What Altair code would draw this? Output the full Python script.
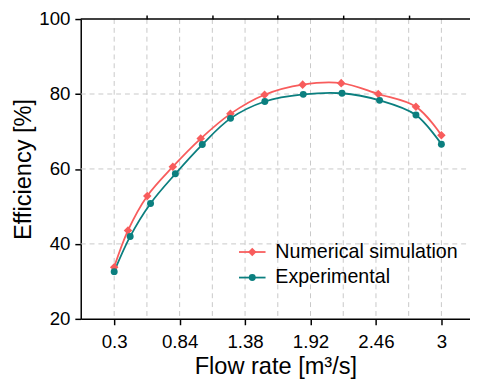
import altair as alt
import pandas as pd

series_names = ["Numerical simulation", "Experimental"]
sim_x = [0.3, 0.414, 0.573, 0.784, 1.014, 1.259, 1.541, 1.855, 2.173, 2.479, 2.79, 3.0]
sim_y = [33.8, 43.6, 52.8, 60.6, 68.1, 74.7, 79.8, 82.5, 82.9, 80.0, 76.6, 69.0]
exp_x = [0.3, 0.432, 0.6, 0.805, 1.027, 1.26, 1.543, 1.86, 2.18, 2.49, 2.79, 3.0]
exp_y = [32.6, 42.0, 50.8, 58.7, 66.5, 73.5, 78.0, 79.9, 80.2, 78.3, 74.4, 66.6]

x_major = [0.3, 0.84, 1.38, 1.92, 2.46, 3.0]
x_minor = [0.57, 1.11, 1.65, 2.19, 2.73]
x_grid = [0.3, 0.57, 0.84, 1.11, 1.38, 1.65, 1.92, 2.19, 2.46, 2.73, 3.0]
y_major = [20, 40, 60, 80, 100]
y_minor = [30, 50, 70, 90]
y_grid = [40, 60, 80]

colors = ["#F85C5C", "#0B7F7F"]
FONT = "Liberation Sans, Arial"
W, H = 396, 305

df = pd.DataFrame({
    "x": sim_x + exp_x,
    "y": sim_y + exp_y,
    "series": [series_names[0]] * len(sim_x) + [series_names[1]] * len(exp_x),
})

xscale = alt.Scale(domain=[0.024, 3.236], nice=False, zero=False)
yscale = alt.Scale(domain=[20, 100], nice=False, zero=False)
cscale = alt.Scale(domain=series_names, range=colors)
sscale = alt.Scale(domain=series_names, range=["diamond", "circle"])
zscale = alt.Scale(domain=series_names, range=[75, 50])

grid_style = dict(strokeDash=[5, 4], color="#c8c8c8", strokeWidth=1)

vgrid = alt.Chart(pd.DataFrame({"gx": x_grid})).mark_rule(**grid_style).encode(
    x=alt.X("gx:Q", scale=xscale, axis=alt.Axis(
        values=x_major, format=".2~f", tickSize=6, tickWidth=1.5, tickColor="black",
        domainColor="black", domainWidth=1.5, labelFontSize=19, labelFont=FONT,
        labelColor="black", labelPadding=8, grid=False, title="Flow rate [m³/s]",
        titleFontSize=24, titleFont=FONT, titleFontWeight="normal", titleColor="black",
        titlePadding=4, labelFlush=False)),
    y=alt.value(0), y2=alt.value(H),
)

hgrid = alt.Chart(pd.DataFrame({"gy": y_grid})).mark_rule(**grid_style).encode(
    y=alt.Y("gy:Q", scale=yscale, axis=alt.Axis(
        values=y_major, tickSize=6, tickWidth=1.5, tickColor="black",
        domainColor="black", domainWidth=1.5, labelFontSize=19, labelFont=FONT,
        labelColor="black", labelPadding=5, grid=False, title="Efficiency [%]",
        titleFontSize=24, titleFont=FONT, titleFontWeight="normal", titleColor="black",
        titlePadding=3, labelFlush=False)),
    x=alt.value(0), x2=alt.value(W),
)

xminor = alt.Chart(pd.DataFrame({"mx": x_minor})).mark_point(opacity=0).encode(
    x=alt.X("mx:Q", scale=xscale, axis=alt.Axis(
        values=x_minor, labels=False, tickSize=4, tickWidth=1.5, tickColor="black",
        domain=False, grid=False, title=None)),
)
yminor = alt.Chart(pd.DataFrame({"my": y_minor})).mark_point(opacity=0).encode(
    y=alt.Y("my:Q", scale=yscale, axis=alt.Axis(
        values=y_minor, labels=False, tickSize=4, tickWidth=1.5, tickColor="black",
        domain=False, grid=False, title=None)),
)

top = alt.Chart(pd.DataFrame({"a": [0]})).mark_rule(color="black", strokeWidth=1.5).encode(
    x=alt.value(0), x2=alt.value(W), y=alt.value(0)
)

lines = alt.Chart(df).mark_line(interpolate="catmull-rom", strokeWidth=1.8).encode(
    x=alt.X("x:Q", scale=xscale, axis=None),
    y=alt.Y("y:Q", scale=yscale, axis=None),
    color=alt.Color("series:N", scale=cscale, legend=None),
)
points = alt.Chart(df).mark_point(filled=True, opacity=1).encode(
    x=alt.X("x:Q", scale=xscale, axis=None),
    y=alt.Y("y:Q", scale=yscale, axis=None),
    color=alt.Color("series:N", scale=cscale, legend=None),
    shape=alt.Shape("series:N", scale=sscale, legend=None),
    size=alt.Size("series:N", scale=zscale, legend=None),
)

legend_layers = []
for i, (name, col, shp, sz) in enumerate(zip(series_names, colors, ["diamond", "circle"], [75, 50])):
    ly = 237 + 26 * i
    one = pd.DataFrame({"label": [name]})
    legend_layers.append(alt.Chart(one).mark_rule(color=col, strokeWidth=1.8).encode(
        x=alt.value(161), x2=alt.value(188), y=alt.value(ly)))
    legend_layers.append(alt.Chart(one).mark_point(filled=True, opacity=1, color=col, shape=shp, size=sz).encode(
        x=alt.value(174.5), y=alt.value(ly)))
    legend_layers.append(alt.Chart(one).mark_text(align="left", baseline="middle", fontSize=20, font=FONT, color="black").encode(
        x=alt.value(198), y=alt.value(ly), text="label:N"))

chart = alt.layer(vgrid, hgrid, xminor, yminor, top, lines, points, *legend_layers).resolve_axis(
    x="independent", y="independent"
).properties(
    width=W, height=H,
    autosize=alt.AutoSizeParams(type="none"),
    padding={"left": 74, "top": 8, "right": 0, "bottom": 61},
).configure_view(stroke=None)

chart.save("out.html", embed_options={"renderer": "svg", "actions": False})
